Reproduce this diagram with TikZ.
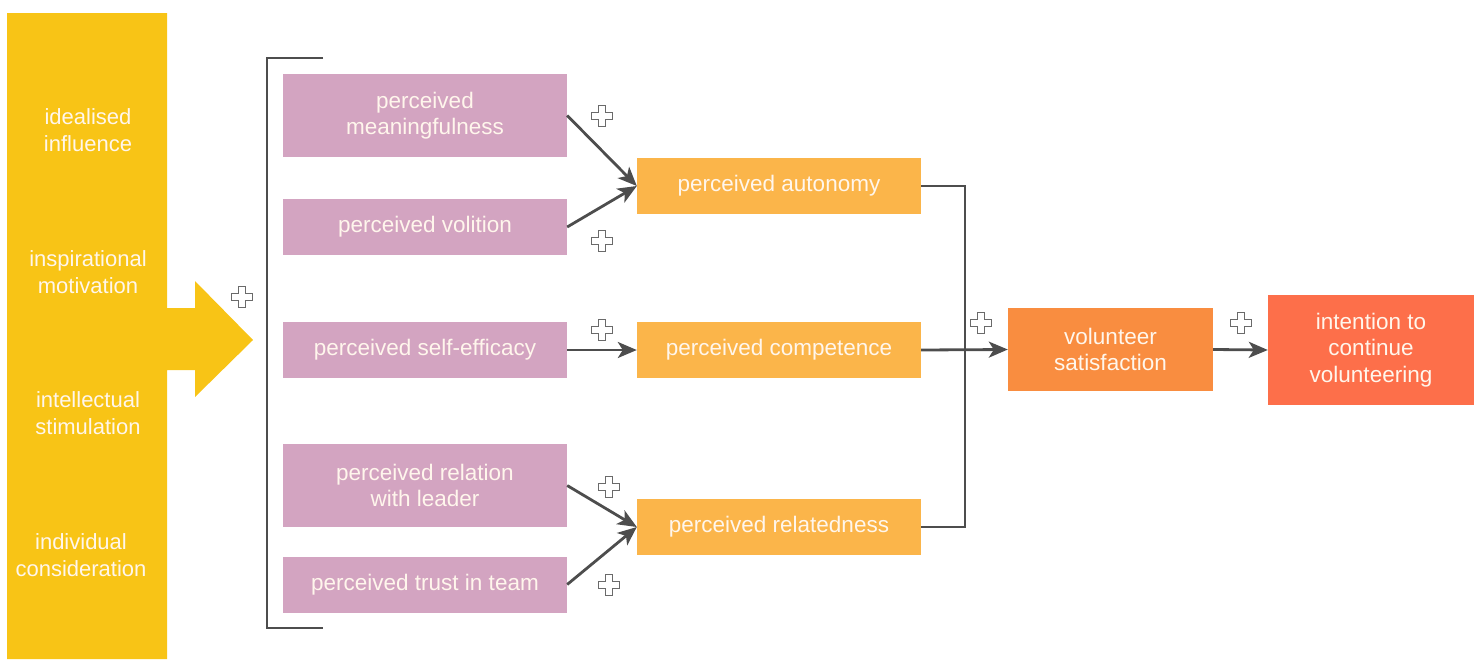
\documentclass[tikz,border=0pt]{standalone}
\usepackage{fontspec}
\setmainfont{Liberation Sans}
\usetikzlibrary{arrows.meta}
\definecolor{baryellow}{HTML}{F8C416}
\definecolor{pinkbox}{HTML}{D3A4C1}
\definecolor{lorange}{HTML}{FBB54A}
\definecolor{morange}{HTML}{F98D40}
\definecolor{rorange}{HTML}{FD6F4A}
\definecolor{txtw}{HTML}{FFF6EC}
\definecolor{linegray}{HTML}{4D4D4D}
\definecolor{plusgray}{HTML}{6A6A6A}
\tikzset{
  box/.style={rectangle, inner sep=0pt, text=txtw, align=center,
    font=\fontsize{22.5}{26.5}\selectfont},
  pinkb/.style={box, fill=pinkbox, minimum width=284pt},
  lob/.style={box, fill=lorange, minimum width=284pt, minimum height=56pt},
  bartext/.style={text=txtw, align=center, inner sep=0pt, font=\fontsize{22}{26.5}\selectfont},
  conn/.style={draw=linegray, line width=2.8pt, -{Stealth[length=19pt,width=16pt,inset=5pt]}},
  plain/.style={draw=linegray, line width=2.8pt},
  plusline/.style={draw=plusgray, line width=1.6pt, fill=white, line join=miter},
  plussign/.pic={\path[plusline] (-3.4,-10.5) -- (3.4,-10.5) -- (3.4,-3.4) -- (10.5,-3.4) -- (10.5,3.4) -- (3.4,3.4) -- (3.4,10.5) -- (-3.4,10.5) -- (-3.4,3.4) -- (-10.5,3.4) -- (-10.5,-3.4) -- (-3.4,-3.4) -- cycle;}
}
\begin{document}
\begin{tikzpicture}[x=1pt,y=-1pt]
\useasboundingbox (0,0) rectangle (1480,659);
% yellow bar with arrow
\fill[baryellow] (7,13) -- (167,13) -- (167,308) -- (195,308) -- (195,281) -- (253,340) -- (195,397) -- (195,370) -- (167,370) -- (167,659) -- (7,659) -- cycle;
\node[bartext] (t1) at (88,130) {idealised\\influence};
\node[bartext] (t2) at (88,272) {inspirational\\motivation};
\node[bartext] (t3) at (88,413) {intellectual\\stimulation};
\node[bartext] (t4) at (81,555) {individual\\consideration};
% bracket
\coordinate (bt) at (323,58);
\coordinate (bb) at (323,628);
\draw[plain] (bt) -- (267,58) -- (267,628) -- (bb);
% pink boxes
\node[pinkb, minimum height=83pt] (mean) at (425,115.5) {perceived\\meaningfulness};
\node[pinkb, minimum height=56pt] (vol) at (425,227) {perceived volition};
\node[pinkb, minimum height=56pt] (self) at (425,350) {perceived self-efficacy};
\node[pinkb, minimum height=83pt] (rel) at (425,485.5) {perceived relation\\with leader};
\node[pinkb, minimum height=56pt] (trust) at (425,584.5) {perceived trust in team};
% light orange boxes
\node[lob] (aut) at (779,186) {perceived autonomy};
\node[lob] (comp) at (779,350) {perceived competence};
\node[lob] (relat) at (779,527) {perceived relatedness};
% outcome boxes
\node[box, fill=morange, minimum width=205pt, minimum height=83pt] (sat) at (1110.5,349.5) {volunteer\\satisfaction};
\node[box, fill=rorange, minimum width=206pt, minimum height=110pt] (int) at (1371,350) {intention to\\continue\\volunteering};
% connectors
\draw[conn] (mean.east) -- (aut.west);
\draw[conn] (vol.east) -- (aut.west);
\draw[conn] (self.east) -- (comp.west);
\draw[conn] (rel.east) -- (relat.west);
\draw[conn] (trust.east) -- (relat.west);
\draw[plain] (aut.east) -- (965,186) -- (965,527) -- (relat.east);
\draw[conn] (comp.east) -- (sat.west);
\draw[conn] (sat.east) -- (int.west);
% plus signs
\pic at (242,297) {plussign};
\pic at (602,116) {plussign};
\pic at (602,241) {plussign};
\pic at (602,330) {plussign};
\pic at (609,487) {plussign};
\pic at (609,585) {plussign};
\pic at (981,323) {plussign};
\pic at (1241,323) {plussign};
\end{tikzpicture}
\end{document}
